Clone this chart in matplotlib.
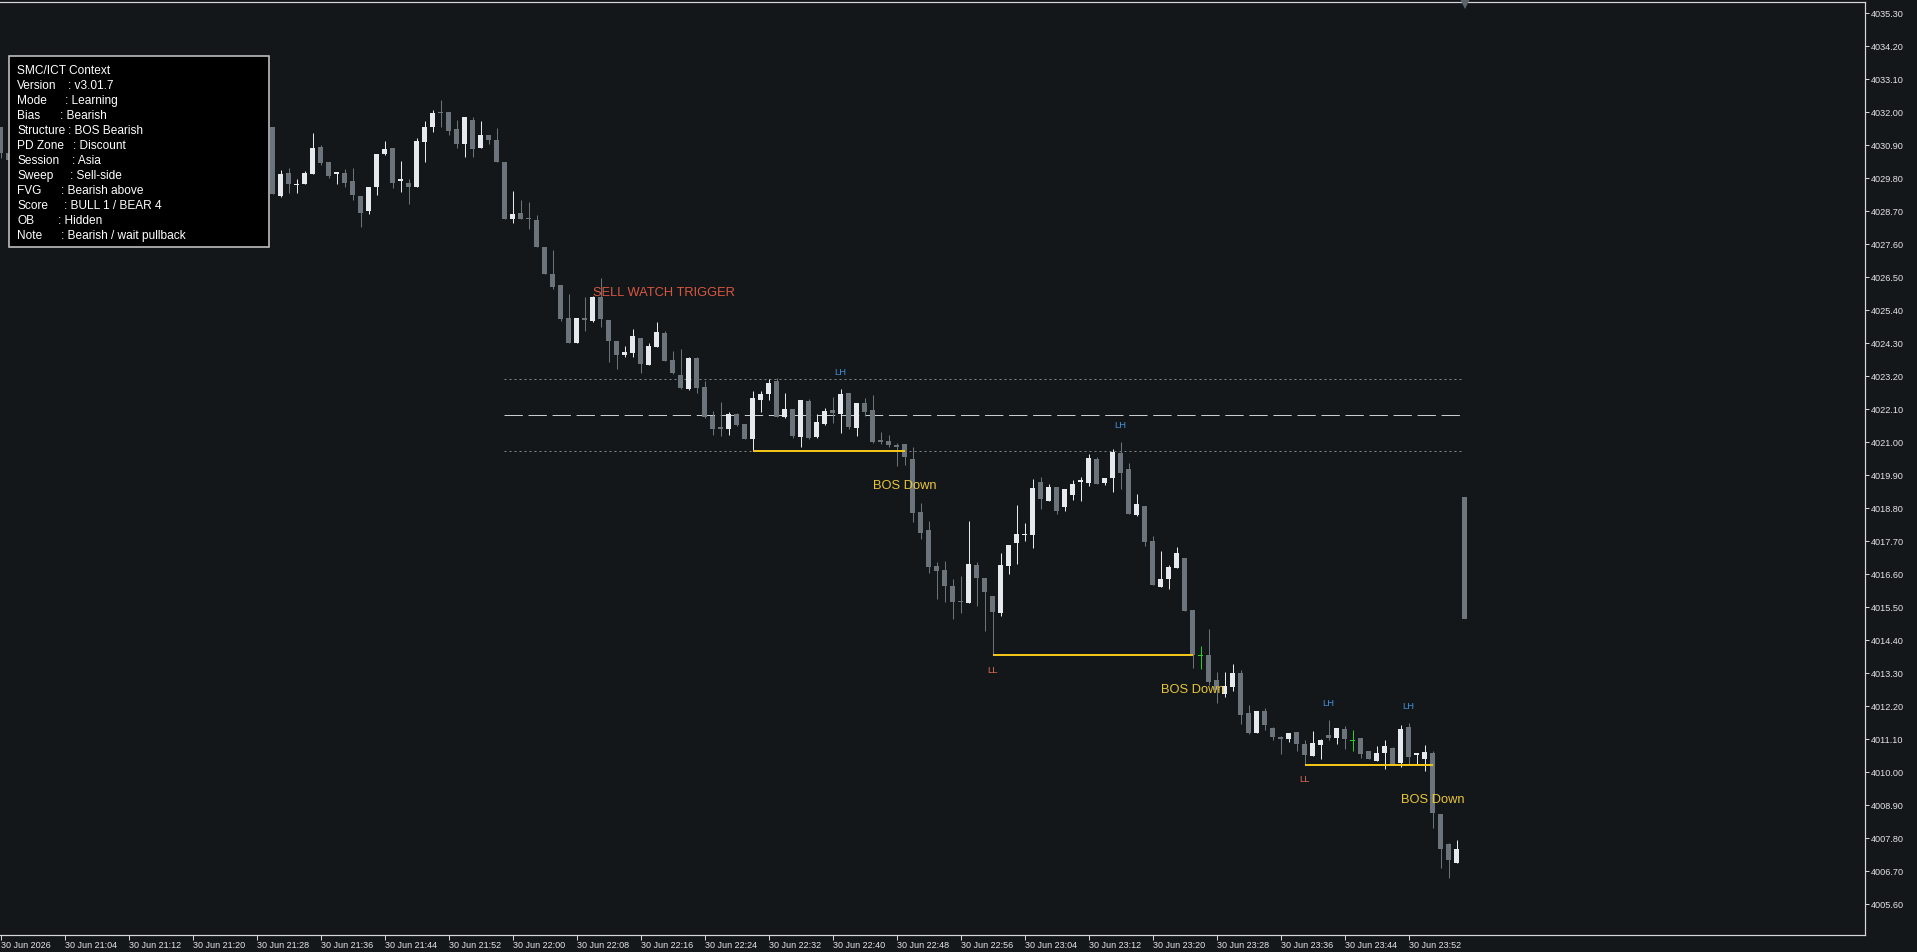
import matplotlib
matplotlib.use("Agg")
import matplotlib.pyplot as plt
from matplotlib.patches import Rectangle
from matplotlib.transforms import blended_transform_factory

plt.rcParams["font.family"] = ["Liberation Sans", "DejaVu Sans"]
plt.rcParams["lines.scale_dashes"] = False

# ---- data (1-minute bars, bar 0 = 30 Jun 20:56) ----
bar_idx = [0, 1] + list(range(34, 183))

opens = [4031.50, 4030.63,
         4031.49, 4029.20, 4029.96, 4029.57, 4029.59, 4029.92, 4030.82, 4030.34, 4029.93, 4029.98,
         4029.71, 4029.20, 4028.71, 4029.51, 4030.60, 4030.79, 4029.70, 4029.62, 4029.51, 4031.01,
         4031.51, 4031.99, 4031.99, 4031.42, 4030.92, 4031.73, 4030.81, 4031.23, 4031.07, 4030.34,
         4028.44, 4028.63, 4028.46, 4028.40, 4027.51, 4026.60, 4026.23, 4025.14, 4024.31, 4025.13,
         4025.03, 4025.84, 4025.07, 4024.37, 4023.90, 4023.98, 4024.47, 4023.58, 4024.18, 4024.64,
         4023.73, 4023.23, 4022.78, 4023.80, 4022.83, 4021.87, 4021.50, 4021.44, 4021.93, 4021.61,
         4021.10, 4022.40, 4022.60, 4023.03, 4021.84, 4022.10, 4021.18, 4022.37, 4021.18, 4021.60,
         4022.07, 4021.93, 4022.62, 4021.48, 4022.29, 4022.07, 4021.07, 4021.03, 4020.89, 4020.93,
         4020.43, 4018.67, 4018.07, 4016.87, 4016.73, 4016.20, 4015.70, 4015.64, 4016.90, 4016.48,
         4015.87, 4015.31, 4016.88, 4017.62, 4017.90, 4017.90, 4019.66, 4019.04, 4019.49, 4018.84,
         4019.23, 4019.68, 4019.64, 4020.43, 4019.64, 4019.81, 4020.64, 4020.10, 4018.57, 4018.87,
         4017.70, 4016.18, 4016.43, 4016.81, 4017.12, 4015.40, 4013.90, 4013.90, 4013.07, 4012.60,
         4012.82, 4013.31, 4011.96, 4011.31, 4012.03, 4011.48, 4011.18, 4011.10, 4011.32, 4010.93,
         4010.54, 4010.90, 4011.23, 4011.14, 4011.43, 4011.07, 4011.14, 4010.70, 4010.37, 4010.62,
         4010.81, 4010.29, 4011.51, 4010.58, 4010.43, 4010.62, 4008.60, 4007.60, 4006.96]

highs = [4031.50, 4030.70,
         4031.49, 4030.07, 4030.12, 4029.76, 4030.03, 4031.31, 4030.90, 4030.34, 4030.00, 4030.11,
         4030.13, 4029.20, 4029.51, 4030.60, 4031.03, 4030.79, 4030.38, 4029.76, 4031.14, 4031.70,
         4032.07, 4032.40, 4031.99, 4031.73, 4031.82, 4031.82, 4031.70, 4031.23, 4031.46, 4030.34,
         4029.37, 4029.07, 4028.99, 4028.57, 4027.51, 4027.40, 4026.23, 4025.93, 4025.14, 4025.82,
         4025.87, 4026.46, 4025.07, 4024.37, 4024.20, 4024.77, 4024.47, 4024.31, 4024.99, 4024.71,
         4024.03, 4024.10, 4023.83, 4023.83, 4023.02, 4022.04, 4022.34, 4022.01, 4021.96, 4021.61,
         4022.70, 4022.70, 4023.10, 4023.13, 4022.64, 4022.10, 4022.40, 4022.42, 4021.92, 4022.12,
         4022.51, 4022.77, 4022.62, 4022.29, 4022.46, 4022.57, 4021.32, 4021.22, 4020.98, 4020.93,
         4020.82, 4018.96, 4018.37, 4016.99, 4017.02, 4016.43, 4016.53, 4018.37, 4016.99, 4016.48,
         4015.87, 4017.29, 4017.56, 4018.90, 4018.31, 4019.76, 4019.82, 4019.59, 4019.49, 4019.42,
         4019.73, 4019.82, 4020.59, 4020.51, 4019.79, 4020.77, 4021.00, 4020.29, 4019.27, 4018.87,
         4017.87, 4017.37, 4016.90, 4017.51, 4017.12, 4015.40, 4014.21, 4014.76, 4013.32, 4013.34,
         4013.60, 4013.40, 4012.22, 4012.03, 4012.12, 4011.51, 4011.20, 4011.29, 4011.32, 4011.07,
         4011.37, 4011.10, 4011.73, 4011.46, 4011.53, 4011.40, 4011.14, 4010.70, 4010.88, 4011.07,
         4010.84, 4011.57, 4011.64, 4010.64, 4010.90, 4010.70, 4008.60, 4007.62, 4007.73]

lows = [4030.47, 4030.30,
        4029.26, 4029.18, 4029.31, 4029.31, 4029.59, 4029.92, 4030.23, 4029.79, 4029.60, 4029.51,
        4029.07, 4028.16, 4028.60, 4029.23, 4030.57, 4029.46, 4029.34, 4028.92, 4029.51, 4030.34,
        4031.34, 4031.51, 4031.23, 4030.79, 4030.51, 4030.51, 4030.81, 4030.92, 4030.34, 4028.42,
        4028.31, 4028.44, 4028.09, 4027.51, 4026.61, 4026.09, 4025.04, 4024.31, 4024.31, 4024.71,
        4025.01, 4024.84, 4023.68, 4023.44, 4023.84, 4023.82, 4023.31, 4023.58, 4024.18, 4023.71,
        4023.27, 4022.78, 4022.74, 4022.62, 4021.80, 4021.24, 4021.20, 4021.22, 4021.53, 4021.09,
        4020.70, 4022.01, 4022.40, 4021.84, 4021.81, 4021.14, 4020.84, 4021.10, 4021.14, 4021.58,
        4021.64, 4021.31, 4021.42, 4021.21, 4021.88, 4020.96, 4020.93, 4020.82, 4020.20, 4020.23,
        4018.34, 4017.78, 4016.64, 4015.78, 4015.67, 4015.11, 4015.31, 4015.62, 4015.53, 4014.71,
        4013.90, 4015.21, 4016.59, 4016.93, 4017.71, 4017.46, 4018.77, 4019.04, 4018.59, 4018.71,
        4019.07, 4019.03, 4019.53, 4019.60, 4019.57, 4019.34, 4019.43, 4018.60, 4018.53, 4017.54,
        4016.23, 4016.18, 4016.10, 4016.81, 4015.37, 4013.46, 4013.42, 4012.90, 4012.31, 4012.51,
        4012.71, 4011.60, 4011.26, 4011.31, 4011.40, 4011.07, 4010.60, 4011.01, 4010.71, 4010.26,
        4010.54, 4010.42, 4011.07, 4010.93, 4010.77, 4010.71, 4010.48, 4010.43, 4010.37, 4010.10,
        4010.27, 4010.18, 4010.23, 4010.23, 4010.04, 4008.14, 4006.79, 4006.48, 4006.96]

closes = [4030.63, 4030.40,
          4029.26, 4029.93, 4029.59, 4029.60, 4029.96, 4030.79, 4030.31, 4029.87, 4030.00, 4029.64,
          4029.23, 4028.62, 4029.51, 4030.60, 4030.76, 4029.64, 4029.77, 4029.49, 4031.03, 4031.49,
          4031.96, 4031.96, 4031.38, 4030.92, 4031.82, 4030.76, 4031.23, 4031.07, 4030.34, 4028.42,
          4028.60, 4028.44, 4028.42, 4027.51, 4026.61, 4026.18, 4025.11, 4024.31, 4025.14, 4025.07,
          4025.84, 4025.11, 4024.37, 4023.91, 4024.00, 4024.53, 4023.61, 4024.21, 4024.67, 4023.71,
          4023.29, 4022.80, 4023.80, 4022.80, 4021.84, 4021.44, 4021.44, 4021.93, 4021.57, 4021.09,
          4022.46, 4022.60, 4022.97, 4021.84, 4022.10, 4021.20, 4022.40, 4021.12, 4021.66, 4022.03,
          4021.98, 4022.60, 4021.51, 4022.29, 4021.99, 4021.01, 4021.01, 4020.90, 4020.84, 4020.51,
          4018.64, 4017.98, 4016.84, 4016.71, 4016.21, 4015.67, 4015.66, 4016.93, 4016.48, 4016.01,
          4015.34, 4016.90, 4017.56, 4017.92, 4017.95, 4019.46, 4019.09, 4019.49, 4018.71, 4019.42,
          4019.60, 4019.73, 4020.48, 4019.60, 4019.79, 4020.66, 4019.98, 4018.60, 4018.92, 4017.68,
          4016.23, 4016.43, 4016.84, 4017.29, 4015.37, 4013.90, 4013.88, 4013.01, 4012.73, 4012.87,
          4013.29, 4011.90, 4011.31, 4012.03, 4011.57, 4011.18, 4011.09, 4011.29, 4010.93, 4010.57,
          4010.96, 4011.07, 4011.14, 4011.46, 4011.10, 4011.03, 4010.59, 4010.43, 4010.62, 4010.87,
          4010.27, 4011.44, 4010.51, 4010.62, 4010.66, 4008.62, 4007.43, 4007.07, 4007.43]

signal_bars = [150, 169]          # green marker candles

# range levels (high / equilibrium / low)
range_levels = [4023.09, 4021.89, 4020.69]
range_start, range_end = 62.9, 182.5

# swing labels
lh_bars = [105, 140, 166, 176]
ll_bars = [124, 163]
# break-of-structure lines: (start bar, end bar, level)
bos_lines = [(94, 113, 4020.70), (124, 149, 4013.90), (163, 179, 4010.25)]

trigger_bar, trigger_price = 74, 4025.97

# the tall bar at the right end
gauge_bar, gauge_low, gauge_high = 183, 4015.10, 4019.17

info_labels = ["Version", "Mode", "Bias", "Structure", "PD Zone", "Session",
               "Sweep", "FVG", "Score", "OB", "Note"]
info_values = ["v3.01.7", "Learning", "Bearish", "BOS Bearish", "Discount", "Asia",
               "Sell-side", "Bearish above", "BULL 1 / BEAR 4", "Hidden", "Bearish / wait pullback"]
info_colon_px = [67.5, 64.5, 59.5, 67.5, 73.2, 71.9, 69.5, 60.9, 63.9, 57.5, 60.9]

x_tick_bars = [0, 8, 16, 24, 32, 40, 48, 56, 64, 72, 80, 88, 96, 104, 112, 120,
               128, 136, 144, 152, 160, 168, 176]
x_tick_labels = ["30 Jun 2026", "30 Jun 21:04", "30 Jun 21:12", "30 Jun 21:20", "30 Jun 21:28",
                 "30 Jun 21:36", "30 Jun 21:44", "30 Jun 21:52", "30 Jun 22:00", "30 Jun 22:08",
                 "30 Jun 22:16", "30 Jun 22:24", "30 Jun 22:32", "30 Jun 22:40", "30 Jun 22:48",
                 "30 Jun 22:56", "30 Jun 23:04", "30 Jun 23:12", "30 Jun 23:20", "30 Jun 23:28",
                 "30 Jun 23:36", "30 Jun 23:44", "30 Jun 23:52"]
y_ticks = [4005.60, 4006.70, 4007.80, 4008.90, 4010.00, 4011.10, 4012.20, 4013.30, 4014.40,
           4015.50, 4016.60, 4017.70, 4018.80, 4019.90, 4021.00, 4022.10, 4023.20, 4024.30,
           4025.40, 4026.50, 4027.60, 4028.70, 4029.80, 4030.90, 4032.00, 4033.10, 4034.20,
           4035.30]

# ---- style ----
BG = "#14171a"
BULL = "#e6e9ed"
BEAR = "#6b737b"
GREEN = "#22d022"
YELLOW = "#f0c419"
AXIS = "#d8d8d8"
PX = 0.72  # one pixel in points at dpi 100

W, H, DPI = 1917, 952, 100
fig = plt.figure(figsize=(W / DPI, H / DPI), dpi=DPI, facecolor=BG)
ax = fig.add_axes([0, 17 / H, 1865 / W, (935 - 1.7) / H])
ax.set_facecolor(BG)
ax.set_xlim(-0.0875, 233.04)
ax.set_ylim(4004.567, 4035.677)

# candles
for i, o, h, l, c in zip(bar_idx, opens, highs, lows, closes):
    if i in signal_bars:
        col = GREEN
    elif c >= o:
        col = BULL
    else:
        col = BEAR
    ax.vlines(i, l, h, colors=col, linewidth=PX, zorder=3)
    bottom = min(o, c)
    height = max(abs(c - o), 0.035)
    ax.bar(i, height, bottom=bottom, width=0.62, color=col, linewidth=0, zorder=3)

# range lines
ax.hlines(range_levels[0], range_start, range_end, colors="#80868c", linewidth=PX,
          linestyles=(0, (1.44, 2.16)), zorder=2)
ax.hlines(range_levels[1], range_start, range_end, colors="#c9cdd1", linewidth=PX,
          linestyles=(0, (13.2, 4.1)), zorder=2)
ax.hlines(range_levels[2], range_start, range_end, colors="#80868c", linewidth=PX,
          linestyles=(0, (1.44, 2.16)), zorder=2)

# BOS lines + labels
for b0, b1, lvl in bos_lines:
    ax.hlines(lvl, b0, b1, colors=YELLOW, linewidth=2 * PX, zorder=4)
    ax.annotate("BOS Down", xy=(b1, lvl), xytext=(0, -35 * PX), textcoords="offset points",
                ha="center", va="center", color="#e8c63a", fontsize=9.3, zorder=5)

# swing labels
for b in lh_bars:
    ax.annotate("LH", xy=(b, highs[bar_idx.index(b)]), xytext=(0, 16.5 * PX),
                textcoords="offset points", ha="center", va="center",
                color="#3f8fdc", fontsize=6.8, zorder=5)
for b in ll_bars:
    ax.annotate("LL", xy=(b, lows[bar_idx.index(b)]), xytext=(0, -15 * PX),
                textcoords="offset points", ha="center", va="center",
                color="#dd6a55", fontsize=6.8, zorder=5)

ax.text(trigger_bar, trigger_price, "SELL WATCH TRIGGER", ha="left", va="center",
        color="#d9573f", fontsize=9.3, zorder=5)

# gauge bar and shift marker
ax.bar(gauge_bar, gauge_high - gauge_low, bottom=gauge_low, width=0.58,
       color="#6e767e", linewidth=0, zorder=3)
trans = blended_transform_factory(ax.transData, ax.transAxes)
ax.plot([gauge_bar], [0.9972], marker="v", markersize=6.5, color="#5d636a",
        markeredgewidth=0, transform=trans, clip_on=False, zorder=6)

# axes
for side in ["top", "right", "bottom"]:
    ax.spines[side].set_color(AXIS)
    ax.spines[side].set_linewidth(PX * 1.2)
ax.spines["left"].set_visible(False)

ax.yaxis.tick_right()
ax.set_yticks(y_ticks)
ax.set_yticklabels([f"{v:.2f}" for v in y_ticks])
ax.tick_params(axis="y", direction="out", length=4 * PX, width=PX, color=AXIS,
               labelsize=6.6, labelcolor="#e4e4e4", pad=1)

ax.set_xticks(x_tick_bars)
ax.set_xticklabels(x_tick_labels)
ax.tick_params(axis="x", direction="out", length=5 * PX, width=PX, color=AXIS,
               labelsize=6.5, labelcolor="#e4e4e4", pad=0.5)
for lab in ax.get_xticklabels():
    lab.set_ha("left")

# info panel
box = Rectangle((9 / W, 1 - 246.7 / H), 260 / W, 190.7 / H, transform=fig.transFigure,
                facecolor="black", edgecolor="#c4c4c4", linewidth=1.6 * PX, zorder=10)
fig.add_artist(box)
fig.text(17.3 / W, 1 - 74 / H, "SMC/ICT Context", color="white", fontsize=8.6,
         va="baseline", ha="left", zorder=11)
for k, (lab, val) in enumerate(zip(info_labels, info_values)):
    y = 1 - (74 + 15 * (k + 1)) / H
    fig.text(17.3 / W, y, lab, color="white", fontsize=8.6, va="baseline", ha="left", zorder=11)
    fig.text(info_colon_px[k] / W, y, ": " + val, color="white", fontsize=8.6,
             va="baseline", ha="left", zorder=11)

fig.savefig("out.png", dpi=DPI, facecolor=BG)
